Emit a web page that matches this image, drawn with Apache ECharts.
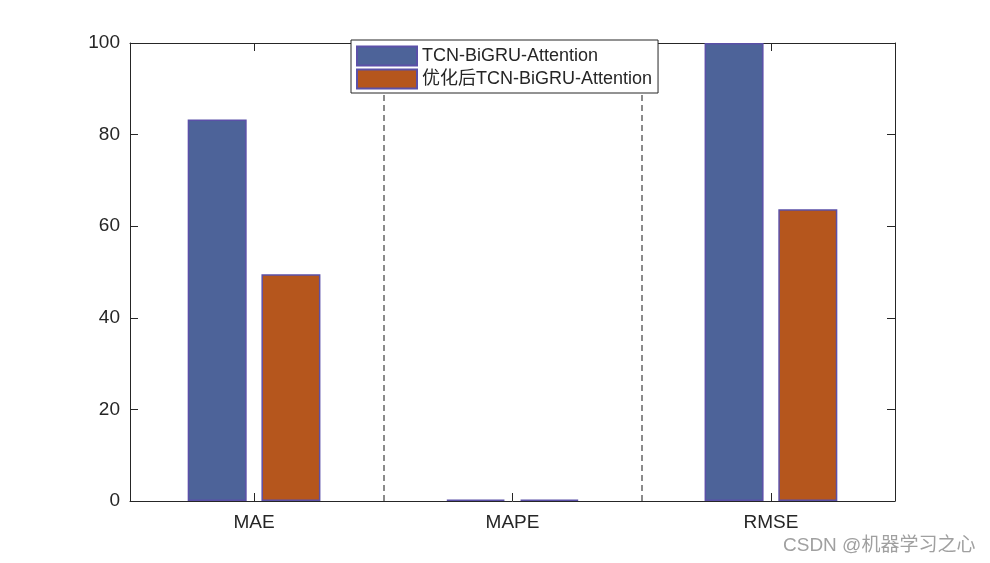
<!DOCTYPE html>
<html><head><meta charset="utf-8">
<script src="https://cdn.jsdelivr.net/npm/echarts@6/dist/echarts.min.js"></script>
<style>html,body{margin:0;padding:0;background:#fff}#c{width:990px;height:563px}</style>
</head><body><div id="c"></div>
<script>
const categories = ['MAE', 'MAPE', 'RMSE'];
const seriesNames = ['TCN-BiGRU-Attention', '优化后TCN-BiGRU-Attention'];
const valuesBase = [83.3, 0.3, 100];
const valuesOpt = [49.5, 0.3, 63.7];
const yTicks = [0, 20, 40, 60, 80, 100];
const dividers = [1.5, 2.5];

const pos = categories.map((c, i) => i + 1);
const font = 'Liberation Sans, Arial, Helvetica, Noto Sans CJK SC, sans-serif';
const axisCol = '#262626';
const chart = echarts.init(document.getElementById('c'));
const xCommon = {
  type: 'value', min: 0.52, max: 3.48,
  axisLine: { show: true, onZero: false, lineStyle: { color: axisCol, width: 1 } },
  splitLine: { show: false },
  axisTick: { show: true, inside: true, length: 8, customValues: pos, lineStyle: { color: axisCol } }
};
const yCommon = {
  type: 'value', min: 0, max: 100, interval: 20,
  axisLine: { show: true, onZero: false, lineStyle: { color: axisCol, width: 1 } },
  splitLine: { show: false },
  axisTick: { show: true, inside: true, length: 8, lineStyle: { color: axisCol } }
};
chart.setOption({
  animation: false,
  textStyle: { fontFamily: font },
  grid: { left: 130, right: 95, top: 43, bottom: 62 },
  xAxis: [
    Object.assign({}, xCommon, { position: 'bottom',
      axisLabel: { show: true, customValues: pos, formatter: v => categories[Math.round(v) - 1] || '',
        color: axisCol, fontSize: 19, margin: 12, fontFamily: font } }),
    Object.assign({}, xCommon, { position: 'top', axisLabel: { show: false } })
  ],
  yAxis: [
    Object.assign({}, yCommon, { position: 'left',
      axisLabel: { show: true, color: axisCol, fontSize: 19, margin: 10, fontFamily: font,
        customValues: yTicks } }),
    Object.assign({}, yCommon, { position: 'right', axisLabel: { show: false } })
  ],
  legend: {
    z: 20,
    orient: 'vertical', left: 351, top: 40, itemWidth: 60, itemHeight: 19, itemGap: 1,
    padding: [5, 6, 3, 5], icon: 'rect',
    backgroundColor: '#fff', borderColor: axisCol, borderWidth: 1,
    textStyle: { color: axisCol, fontSize: 18, lineHeight: 19, padding: [3, 0, 0, 0], fontFamily: font },
    data: seriesNames
  },
  series: [
    {
      name: seriesNames[0], type: 'bar', xAxisIndex: 0, yAxisIndex: 0,
      barWidth: 59, barGap: '25%',
      data: pos.map((p, i) => [p, valuesBase[i]]),
      itemStyle: { color: '#4D6399', borderColor: '#5B50A8', borderWidth: 1.5 }
    },
    {
      name: seriesNames[1], type: 'bar', xAxisIndex: 0, yAxisIndex: 0,
      barWidth: 59, barGap: '25%',
      data: pos.map((p, i) => [p, valuesOpt[i]]),
      itemStyle: { color: '#B5561D', borderColor: '#5B50A8', borderWidth: 1.5 }
    },
    {
      name: 'dividers', type: 'line', xAxisIndex: 0, yAxisIndex: 0, data: [], z: 1,
      markLine: {
        silent: true, symbol: 'none', label: { show: false }, z: 1,
        lineStyle: { color: '#666666', type: [6, 4], width: 1.5 },
        data: dividers.map(d => ({ xAxis: d }))
      }
    }
  ],
  graphic: [{
    type: 'text', left: 783, top: 536,
    style: { text: 'CSDN @机器学习之心', fill: '#a0a0a0', fontSize: 19, fontFamily: font }
  }]
});
</script></body></html>
